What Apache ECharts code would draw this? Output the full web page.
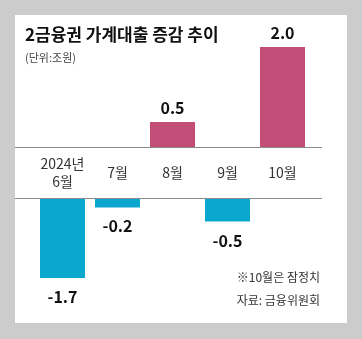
<!DOCTYPE html>
<html><head><meta charset="utf-8">
<script src="https://cdn.jsdelivr.net/npm/echarts@6/dist/echarts.min.js"></script>
<style>html,body{margin:0;padding:0;background:#cccccc}#c{width:362px;height:339px}</style>
</head><body><div id="c"></div>
<script>
const categories = ["2024년\n6월", "7월", "8월", "9월", "10월"];
const values = [-1.7, -0.2, 0.5, -0.5, 2.0];
const titleText = "2금융권 가계대출 증감 추이";
const unitText = "(단위:조원)";
const noteLines = ["※10월은 잠정치", "자료: 금융위원회"];

const posData = values.map(v => v >= 0 ? v : null);
const negData = values.map(v => v < 0 ? v : null);
const FONT = '"Noto Sans CJK KR", "Noto Sans", sans-serif';

const chart = echarts.init(document.getElementById('c'), null, {renderer: 'canvas'});
chart.setOption({
  backgroundColor: '#cccccc',
  animation: false,
  title: {
    text: titleText, subtext: unitText, left: 20, top: 21, itemGap: 9,
    textStyle: {fontFamily: FONT, fontSize: 17, fontWeight: 'bold', color: '#111'},
    subtextStyle: {fontFamily: FONT, fontSize: 11, color: '#444'}
  },
  graphic: [
    {type: 'rect', z: -10, shape: {x: 15, y: 15, width: 332, height: 308}, style: {fill: '#ffffff'}},
    {type: 'line', z: 5, shape: {x1: 15, y1: 147.5, x2: 322, y2: 147.5}, style: {stroke: '#8a8a8a', lineWidth: 1}},
    {type: 'line', z: 5, shape: {x1: 15, y1: 198.5, x2: 322, y2: 198.5}, style: {stroke: '#8a8a8a', lineWidth: 1}},
    {type: 'text', x: 320, y: 277, style: {text: noteLines[0], align: 'right', verticalAlign: 'middle', font: '12px ' + FONT, fill: '#333'}},
    {type: 'text', x: 320, y: 300, style: {text: noteLines[1], align: 'right', verticalAlign: 'middle', font: '12px ' + FONT, fill: '#333'}}
  ],
  grid: [
    {left: 35, right: 52, top: 47, height: 100},
    {left: 35, right: 52, top: 198, height: 80}
  ],
  xAxis: [
    {type: 'category', gridIndex: 0, data: categories, position: 'bottom',
     axisLine: {show: false}, axisTick: {show: false},
     axisLabel: {margin: 26, verticalAlign: 'middle', fontFamily: FONT, fontSize: 14, color: '#333', lineHeight: 18, interval: 0}},
    {type: 'category', gridIndex: 1, data: categories, show: false}
  ],
  yAxis: [
    {type: 'value', gridIndex: 0, min: 0, max: 2.0, show: false},
    {type: 'value', gridIndex: 1, min: -1.7, max: 0, show: false}
  ],
  series: [
    {type: 'bar', xAxisIndex: 0, yAxisIndex: 0, data: posData, barWidth: 45,
     itemStyle: {color: '#c24e78'},
     label: {show: true, position: 'top', distance: 6, fontFamily: FONT, fontSize: 16, fontWeight: 'bold', color: '#111',
       formatter: p => p.value.toFixed(1)}},
    {type: 'bar', xAxisIndex: 1, yAxisIndex: 1, data: negData, barWidth: 45,
     itemStyle: {color: '#0aa8cf'},
     label: {show: true, position: 'bottom', distance: 11, fontFamily: FONT, fontSize: 16, fontWeight: 'bold', color: '#111',
       formatter: p => p.value.toFixed(1)}}
  ]
});
</script></body></html>
